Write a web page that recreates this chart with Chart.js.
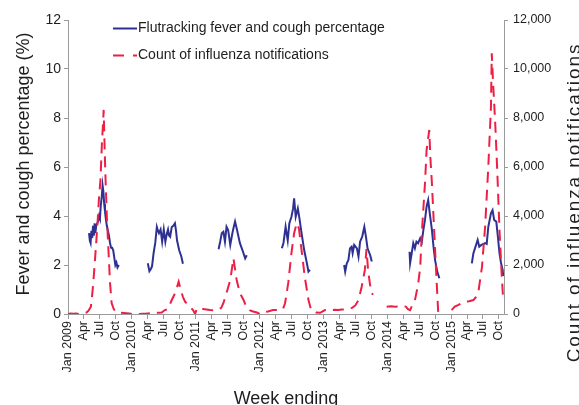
<!DOCTYPE html>
<html>
<head>
<meta charset="utf-8">
<script src="https://cdn.jsdelivr.net/npm/chart.js@4"></script>
<style>
  html, body { margin: 0; padding: 0; background: #ffffff; }
  #wrap { width: 579px; height: 405px; }
</style>
</head>
<body>
<div id="wrap"><canvas id="chart" width="579" height="405"></canvas></div>
<script>
// Time is measured in months since January 2009 (0 = Jan 2009).
// null breaks a line where weekly data is absent.

// Flutracking: weekly fever and cough percentage (%)
const fluMonths = [
  3.95, 4.1, 4.25, 4.4, 4.55, 4.7, 4.85, 5.0, 5.15, 5.3, 5.5, 5.7, 5.85, 6.0, 6.15, 6.35, 6.5, 6.65, 6.8, 6.95,
  7.1, 7.3, 7.5, 7.7, 7.9, 8.1, 8.3, 8.5, 8.7, 8.9, 9.1, 9.3, 9.55, 12,
  15.0, 15.3, 15.6, 15.8, 16.1, 16.4, 16.7, 16.9, 17.1, 17.4, 17.7, 18.0, 18.3, 18.6, 18.8, 19.0, 19.2, 19.5,
  19.8, 20.1, 20.3, 20.5, 20.9, 21.3, 21.6, 24,
  28.3, 28.6, 28.9, 29.2, 29.5, 29.8, 30.1, 30.5, 30.9, 31.1, 31.4, 31.7, 31.9, 32.3, 32.8, 33.3, 33.6, 36,
  40.2, 40.5, 40.9, 41.3, 41.6, 42.0, 42.3, 42.5, 42.8, 43.2, 43.5, 43.9, 44.4, 44.9, 45.2, 45.5, 48,
  51.9, 52.1, 52.4, 52.7, 53.0, 53.3, 53.5, 53.8, 54.3, 54.6, 54.9, 55.3, 55.7, 56.0, 56.3, 56.8, 57.1, 60,
  64.2, 64.3, 64.6, 64.9, 65.2, 65.5, 65.8, 66.2, 66.5, 66.8, 67.1, 67.4, 67.7, 68.0, 68.4, 68.7, 69.0, 69.4, 69.8, 72,
  75.9, 76.2, 76.6, 77.0, 77.3, 77.7, 78.0, 78.4, 78.7, 79.0, 79.5, 79.8, 80.1, 80.5, 80.8, 81.1, 81.4, 81.7, 81.8
];
const fluPct = [
  3.3, 3.0, 2.9, 3.4, 3.1, 3.6, 3.2, 3.7, 3.3, 3.6, 3.7, 3.8, 4.0, 3.9, 4.4, 4.8, 5.25, 5.0, 4.5, 4.2,
  3.9, 3.6, 3.4, 3.2, 2.9, 2.7, 2.7, 2.6, 2.3, 2.0, 2.1, 1.9, 2.0, null,
  2.07, 1.75, 1.85, 1.95, 2.5, 2.9, 3.55, 3.4, 3.3, 3.45, 2.95, 3.45, 2.95, 3.3, 3.45, 3.2, 3.15, 3.55,
  3.6, 3.7, 3.4, 3.0, 2.6, 2.35, 2.05, null,
  2.64, 2.95, 3.3, 3.36, 2.95, 3.56, 3.43, 2.82, 3.3, 3.5, 3.77, 3.5, 3.3, 2.9, 2.6, 2.27, 2.4, null,
  2.68, 2.9, 3.56, 3.0, 3.7, 3.97, 4.3, 4.72, 3.97, 4.31, 3.9, 3.3, 2.6, 2.07, 1.73, 1.8, null,
  2.0, 1.73, 2.07, 2.2, 2.68, 2.75, 2.48, 2.82, 2.68, 2.34, 2.95, 3.16, 3.56, 3.16, 2.68, 2.4, 2.14, null,
  2.54, 2.07, 2.48, 2.89, 2.68, 2.95, 2.89, 3.09, 2.95, 3.43, 3.84, 4.38, 4.65, 4.11, 3.43, 2.75, 2.2, 1.73, 1.46, null,
  2.07, 2.48, 2.75, 3.02, 2.75, 2.82, 2.85, 2.89, 2.86, 3.56, 4.11, 4.24, 3.84, 3.77, 3.16, 2.48, 2.07, 1.8, 1.55
];

// Weekly count of laboratory-confirmed influenza notifications
const notifMonths = [
  0, 0.5, 1.0, 1.5, 2.0, 2.5, 3.0, 3.5, 3.9, 4.3, 4.6, 4.9, 5.3, 5.6, 5.8, 6.1, 6.4, 6.6, 6.7, 6.8,
  7.0, 7.3, 7.6, 7.9, 8.2, 8.6, 9.0, 9.5, 10.0, 10.5, 11.0, 11.5, 12.0, 12.5, 13.0, 13.5, 14.0, 14.5,
  15.0, 15.5, 16.0, 16.5, 17.0, 17.6, 18.2, 18.8, 19.5, 20.2, 20.8, 21.2, 21.6, 22.0, 22.6, 23.0, 23.5,
  23.9, 24.2, 24.6, 25.4, 26.0, 26.7, 27.4, 28.1, 28.8, 29.2, 29.8, 30.5, 31.1, 31.7, 32.3, 33.0, 33.6,
  34.2, 34.8, 35.5, 36.1, 36.7, 37.6, 38.5, 39.2, 39.8, 40.4, 40.8, 41.4, 42.0, 42.5, 43.0, 43.4, 43.9,
  44.5, 45.2, 45.7, 46.2, 46.6, 47.4, 48.3, 49.2, 50.1, 50.8, 51.5, 52.4, 53.4, 54.0, 54.6, 55.2, 55.8,
  56.1, 56.4, 56.9, 57.3, 58.5,
  59.9, 60.7, 61.5, 62.2, 62.9, 63.5, 63.9, 64.3, 64.7, 65.2, 65.8, 66.2, 66.5, 67.1, 67.4, 67.9, 68.1,
  68.4, 68.7, 69.0, 69.3, 69.6, 71,
  72.1, 72.7, 73.4, 74.0, 74.6, 75.4, 76.2, 76.7, 77.1, 77.8, 78.4, 79.0, 79.5, 79.65, 79.9, 80.3, 80.7,
  81.1, 81.5, 81.8
];
const notifCount = [
  0, 20, 10, 20, 0, 0, 10, 60, 150, 300, 900, 1700, 2900, 3900, 4650, 5470, 7100, 7800, 8330, 7500,
  5880, 3960, 2610, 1270, 450, 200, 80, 60, 50, 40, 30, 20, 0, 0, 0, 0, 10, 10,
  20, 30, 40, 50, 50, 60, 160, 200, 570, 880, 1320, 980, 700, 500, 370, 280, 160,
  0, 220, 230, 200, 180, 160, 150, 160, 250, 440, 860, 1390, 2270, 1390, 860, 570, 240,
  150, 100, 60, 0, 80, 100, 160, 160, 160, 200, 440, 1270, 2490, 3300, 3710, 3500, 2610,
  1520, 570, 160, 100, 60, 50, 160, 160, 170, 160, 180, 200, 250, 350, 570, 1110, 1800,
  2650, 1800, 980, 780, null,
  300, 320, 300, 310, 330, 300, 200, 160, 350, 550, 1200, 1900, 3300, 5340, 6690, 7510, 6420,
  5340, 3970, 2610, 1270, 0, null,
  160, 300, 370, 450, 500, 520, 570, 700, 850, 1900, 3560, 6010, 8460, 10640, 9420, 7790, 5750,
  3430, 1670, 570
];

// Axis labelling
const quarterNames = ['Jan', 'Apr', 'Jul', 'Oct'];
const firstYear = 2009;
const lastQuarterTick = 81;        // Oct 2015
const xMaxMonths = 81.95;
const pctTicks = [0, 2, 4, 6, 8, 10, 12];
const countTicks = [0, 2000, 4000, 6000, 8000, 10000, 12000];

const seriesNames = ['Flutracking fever and cough percentage', 'Count of influenza notifications'];
const leftTitle = 'Fever and cough percentage (%)';
const rightTitle = 'Count of influenza notifications';
const bottomTitle = 'Week ending';

const BLUE = '#2e3192';
const RED = '#ee1f45';
const AXIS = '#9a9a9a';
const TEXT = '#1e1e1e';
const FONT = '"Liberation Sans", Arial, Helvetica, sans-serif';

const toPoints = (xs, ys) => xs.map((x, i) => ({ x: x, y: ys[i] }));

const quarterTicks = [];
for (let m = 0; m <= lastQuarterTick; m += 3) quarterTicks.push(m);

function quarterLabel(m) {
  const q = Math.round(m / 3) % 4;
  const yr = firstYear + Math.floor(m / 12);
  return q === 0 ? quarterNames[0] + ' ' + yr : quarterNames[q];
}

// Legend and axis titles drawn over the chart
const decorations = {
  id: 'decorations',
  afterDraw(chart) {
    const ctx = chart.ctx;
    const a = chart.chartArea;
    const midY = (a.top + a.bottom) / 2;
    ctx.save();
    ctx.fillStyle = TEXT;

    // legend
    ctx.font = '14px ' + FONT;
    ctx.textAlign = 'left';
    ctx.textBaseline = 'middle';
    const lx0 = a.left + 45, lx1 = a.left + 69;
    const rows = [a.top + 8.5, a.top + 35.5];
    ctx.lineWidth = 2;
    ctx.strokeStyle = BLUE;
    ctx.setLineDash([]);
    ctx.beginPath(); ctx.moveTo(lx0, rows[0]); ctx.lineTo(lx1, rows[0]); ctx.stroke();
    ctx.strokeStyle = RED;
    ctx.setLineDash([11, 9]);
    ctx.beginPath(); ctx.moveTo(lx0, rows[1]); ctx.lineTo(lx1, rows[1]); ctx.stroke();
    ctx.setLineDash([]);
    ctx.fillText(seriesNames[0], lx1 + 1, rows[0]);
    ctx.fillText(seriesNames[1], lx1 + 1, rows[1]);

    // axis titles
    ctx.textAlign = 'center';
    ctx.textBaseline = 'alphabetic';

    ctx.font = '18px ' + FONT;
    ctx.save();
    ctx.translate(28.5, midY - 3);
    ctx.rotate(-Math.PI / 2);
    ctx.fillText(leftTitle, 0, 0);
    ctx.restore();

    ctx.font = '19px ' + FONT;
    ctx.save();
    if ('letterSpacing' in ctx) ctx.letterSpacing = '1.9px';
    ctx.translate(579.5, 202.5);
    ctx.rotate(-Math.PI / 2);
    ctx.fillText(rightTitle, 0, 0);
    ctx.restore();

    ctx.font = '18px ' + FONT;
    ctx.fillText(bottomTitle, (a.left + a.right) / 2, 404);
    ctx.restore();
  }
};

new Chart(document.getElementById('chart'), {
  type: 'line',
  data: {
    datasets: [
      {
        label: seriesNames[0],
        data: toPoints(fluMonths, fluPct),
        yAxisID: 'yL',
        borderColor: BLUE,
        backgroundColor: BLUE,
        borderWidth: 2,
        pointRadius: 0,
        tension: 0,
        spanGaps: false,
        order: 2
      },
      {
        label: seriesNames[1],
        data: toPoints(notifMonths, notifCount),
        yAxisID: 'yR',
        borderColor: RED,
        backgroundColor: RED,
        borderWidth: 2,
        borderDash: [11, 7],
        pointRadius: 0,
        tension: 0,
        spanGaps: false,
        order: 1
      }
    ]
  },
  options: {
    responsive: false,
    animation: false,
    devicePixelRatio: 1,
    layout: { padding: { top: 20, left: 0, right: 0, bottom: 0 } },
    plugins: {
      legend: { display: false },
      tooltip: { enabled: false }
    },
    scales: {
      x: {
        type: 'linear',
        position: 'bottom',
        min: 0,
        max: xMaxMonths,
        afterBuildTicks: (s) => { s.ticks = quarterTicks.map(v => ({ value: v })); },
        afterFit: (s) => { s.height = 91; },
        ticks: {
          autoSkip: false,
          minRotation: 90,
          maxRotation: 90,
          padding: 2,
          color: TEXT,
          font: { family: FONT, size: 12.5 },
          callback: (v) => quarterLabel(v)
        },
        grid: { drawOnChartArea: false, drawTicks: true, tickLength: 5, color: AXIS },
        border: { color: AXIS, width: 1 }
      },
      yL: {
        type: 'linear',
        position: 'left',
        min: 0,
        max: 12,
        afterBuildTicks: (s) => { s.ticks = pctTicks.map(v => ({ value: v })); },
        afterFit: (s) => { s.width = 68; },
        ticks: { padding: 3, color: TEXT, font: { family: FONT, size: 14 }, callback: (v) => String(v) },
        grid: { drawOnChartArea: false, drawTicks: true, tickLength: 4, color: AXIS },
        border: { color: AXIS, width: 1 }
      },
      yR: {
        type: 'linear',
        position: 'right',
        min: 0,
        max: 12000,
        afterBuildTicks: (s) => { s.ticks = countTicks.map(v => ({ value: v })); },
        afterFit: (s) => { s.width = 75; },
        ticks: { padding: 5, color: TEXT, font: { family: FONT, size: 12.5 }, callback: (v) => Number(v).toLocaleString('en-US') },
        grid: { drawOnChartArea: false, drawTicks: true, tickLength: 4, color: AXIS },
        border: { color: AXIS, width: 1 }
      }
    }
  },
  plugins: [decorations]
});
</script>
</body>
</html>
